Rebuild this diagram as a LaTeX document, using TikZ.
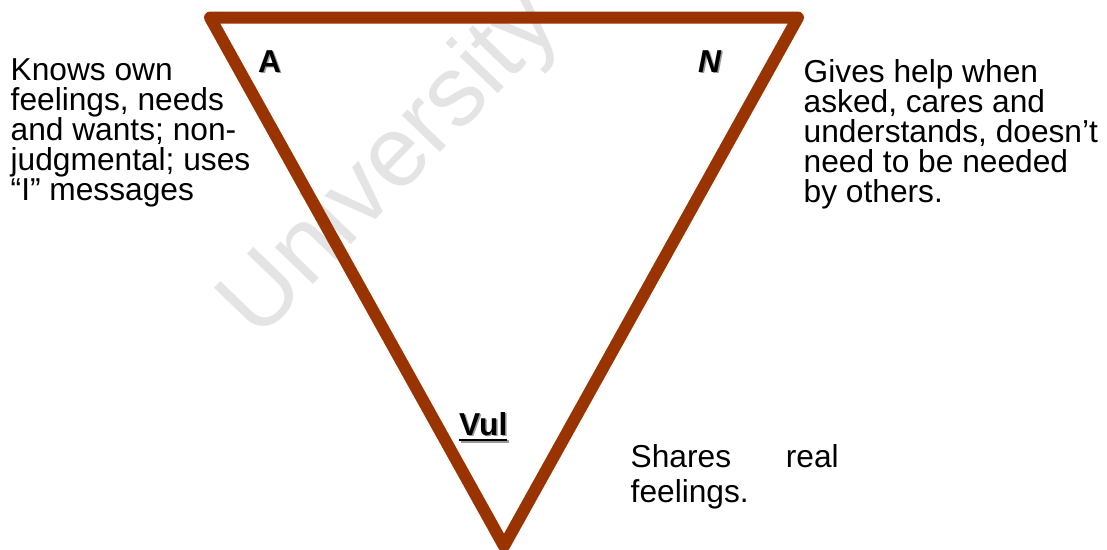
\documentclass[tikz,border=0pt]{standalone}
\usepackage{fontspec}
\setmainfont{Liberation Sans}
\definecolor{trired}{RGB}{153,51,0}
\definecolor{wmgray}{RGB}{228,228,228}
\newcommand\ulbox[1]{\setbox0\hbox{#1}\rlap{\rule[-6pt]{\wd0}{2.5pt}}\box0}
\begin{document}
\begin{tikzpicture}[x=1pt,y=-1pt,
  body/.style={anchor=base west, inner sep=0pt, font=\fontsize{31.7}{30}\selectfont},
  lbl/.style={anchor=base west, inner sep=0pt, font=\fontsize{31.7}{30}\selectfont\bfseries},
  lblshade/.style={lbl, text=black!40},
  edge/.style={draw=trired, line width=12pt, line join=round}]
\useasboundingbox (0,0) rectangle (1107,549);
\begin{scope}
\clip (0,0) rectangle (1107,549);
\node[anchor=base west, inner sep=0pt, rotate=46, text=wmgray,
      font=\fontsize{100}{100}\selectfont] (wm) at (258,342) {University of Cape Town};
\end{scope}
\coordinate (tl) at (210,17.5);
\coordinate (tr) at (798,17.5);
\coordinate (bt) at (504,546);
\draw[edge] (tl) -- (tr) -- (bt) -- cycle;
\node[body] (left) at (10.5,80) {\parbox[t]{300pt}{\raggedright Knows own\\feelings, needs\\and wants; non-\\judgmental; uses\\“I” messages}};
\node[body] (right) at (803.5,82) {\parbox[t]{300pt}{\raggedright Gives help when\\asked, cares and\\understands, doesn’t\\need to be needed\\by others.}};
\node[body, font=\fontsize{31.7}{35.5}\selectfont] (bottom) at (630.5,467) {\parbox[t]{208pt}{Shares\hfill real\\feelings.}};
\node[lblshade] (ashade) at (259.5,73.5) {A};
\node[lbl] (a) at (258,72) {A};
\node[lblshade, font=\fontsize{31.7}{30}\selectfont\bfseries\itshape] (nshade) at (699.5,73.5) {N};
\node[lbl, font=\fontsize{31.7}{30}\selectfont\bfseries\itshape] (n) at (698,72) {N};
\node[lblshade] (vulshade) at (460.5,436.5) {\ulbox{Vul}};
\node[lbl] (vul) at (459,435) {\ulbox{Vul}};
\end{tikzpicture}
\end{document}
